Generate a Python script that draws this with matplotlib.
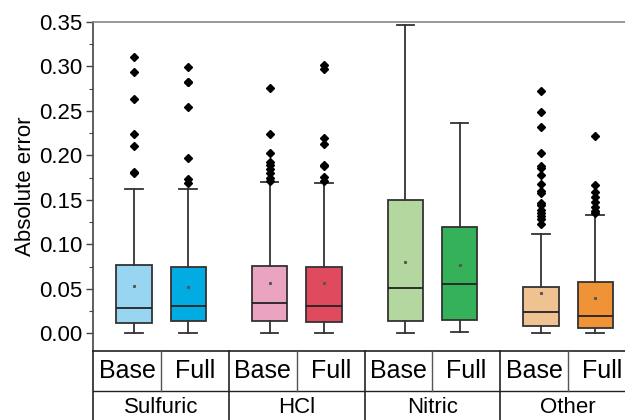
import matplotlib
matplotlib.use("Agg")
import matplotlib.pyplot as plt

plt.rcParams['font.family'] = ['Liberation Sans', 'DejaVu Sans']

groups = ["Sulfuric", "HCl", "Nitric", "Other"]
variants = ["Base", "Full"]

# order: Sulfuric Base, Sulfuric Full, HCl Base, HCl Full, Nitric Base, Nitric Full, Other Base, Other Full
whislo = [0.0, 0.0008, 0.0, 0.0, 0.0, 0.0019, 0.0, 0.0]
q1 = [0.0117, 0.0143, 0.0132, 0.0124, 0.0136, 0.0147, 0.0083, 0.0064]
med = [0.0287, 0.0309, 0.0335, 0.0301, 0.0512, 0.0550, 0.0237, 0.0192]
q3 = [0.0768, 0.0745, 0.0757, 0.0750, 0.1498, 0.1190, 0.0520, 0.0572]
whishi = [0.1620, 0.1626, 0.1698, 0.1690, 0.3463, 0.2368, 0.1118, 0.1329]
means = [0.0530, 0.0520, 0.0569, 0.0561, 0.0798, 0.0772, 0.0456, 0.0392]
fliers = [
    [0.311, 0.2936, 0.2635, 0.224, 0.211, 0.1818, 0.180],
    [0.2989, 0.283, 0.282, 0.2548, 0.1969, 0.1739, 0.169],
    [0.2763, 0.2236, 0.2026, 0.1927, 0.189, 0.185, 0.180, 0.175, 0.171],
    [0.302, 0.2966, 0.2198, 0.213, 0.1893, 0.188, 0.1754, 0.171],
    [],
    [],
    [0.2721, 0.2488, 0.2315, 0.2029, 0.1886, 0.1855, 0.178, 0.1683, 0.160,
     0.1575, 0.1468, 0.144, 0.139, 0.135, 0.1318, 0.128, 0.123],
    [0.2217, 0.1664, 0.1592, 0.1536, 0.1479, 0.142, 0.1377, 0.1347],
]
colors = ["#97D5F1", "#00ACE2", "#EBA3C2", "#DF4A5F",
          "#B4D69F", "#35B159", "#F0C292", "#F09337"]

W, H = 625, 420
fig = plt.figure(figsize=(W / 100, H / 100), dpi=100)
left_px, right_px, top_px, bot_px, row_px = 93.3, 636.0, 22.0, 351.0, 391.0
ax = fig.add_axes([left_px / W, 1 - bot_px / H, (right_px - left_px) / W, (bot_px - top_px) / H])

stats = []
positions = []
for i in range(len(med)):
    g = i // 2
    v = i % 2
    stats.append(dict(whislo=whislo[i], q1=q1[i], med=med[i], q3=q3[i],
                      whishi=whishi[i], mean=means[i], fliers=fliers[i]))
    positions.append(g + 1 + (-0.2 if v == 0 else 0.2))

bp = ax.bxp(stats, positions=positions, widths=0.26, patch_artist=True,
            showmeans=True, showfliers=True,
            boxprops=dict(edgecolor="#333333", linewidth=1.3),
            medianprops=dict(color="#222222", linewidth=1.3),
            whiskerprops=dict(color="#333333", linewidth=1.3),
            capprops=dict(color="#333333", linewidth=1.3),
            capwidths=0.13,
            meanprops=dict(marker="s", markersize=1.2, markerfacecolor="#555555",
                           markeredgecolor="#555555"),
            flierprops=dict(marker="D", markersize=4, markerfacecolor="black",
                            markeredgecolor="black"))
for patch, c in zip(bp["boxes"], colors):
    patch.set_facecolor(c)

ax.set_xlim(0.5, 4.5)
ax.set_ylim(-0.02, 0.35)
ax.set_yticks([0.0, 0.05, 0.10, 0.15, 0.20, 0.25, 0.30, 0.35])
ax.set_yticklabels(["0.00", "0.05", "0.10", "0.15", "0.20", "0.25", "0.30", "0.35"])
ax.set_yticks([0.025, 0.075, 0.125, 0.175, 0.225, 0.275, 0.325], minor=True)
ax.set_xticks([])
ax.tick_params(axis="y", which="major", length=5, width=1, direction="out",
               labelsize=16, pad=3, color="#444444")
ax.tick_params(axis="y", which="minor", length=3, width=0.8, direction="out",
               color="#444444")
ax.set_ylabel("Absolute error", fontsize=16, labelpad=2)
ax.spines["left"].set_color("#444444")
ax.spines["top"].set_color("#888888")
ax.spines["right"].set_color("#888888")
ax.spines["bottom"].set_color("#222222")
for s in ax.spines.values():
    s.set_linewidth(1.2)

# category table below the axes
tax = fig.add_axes([left_px / W, 0, (right_px - left_px) / W, 1 - bot_px / H + 0.0005])
tax.set_xlim(0.5, 4.5)
row_frac = (H - row_px) / (H - bot_px)
tax.set_ylim(0, 1)
tax.axis("off")
tax.axhline(row_frac, color="#222222", linewidth=1.0)
for g in range(len(groups)):
    c = g + 1
    tax.plot([c - 0.5, c - 0.5], [0, 1], color="#222222", linewidth=1.2, clip_on=False)
    tax.plot([c, c], [row_frac, 1], color="#555555", linewidth=1.0)
    for v, name in enumerate(variants):
        tax.text(c + (-0.25 if v == 0 else 0.25), (row_frac + 1) / 2, name,
                 ha="center", va="center", fontsize=18)
    tax.text(c, 1 - (408 - bot_px) / (H - bot_px), groups[g], ha="center",
             va="center", fontsize=16)

fig.savefig("out.png", dpi=100)
